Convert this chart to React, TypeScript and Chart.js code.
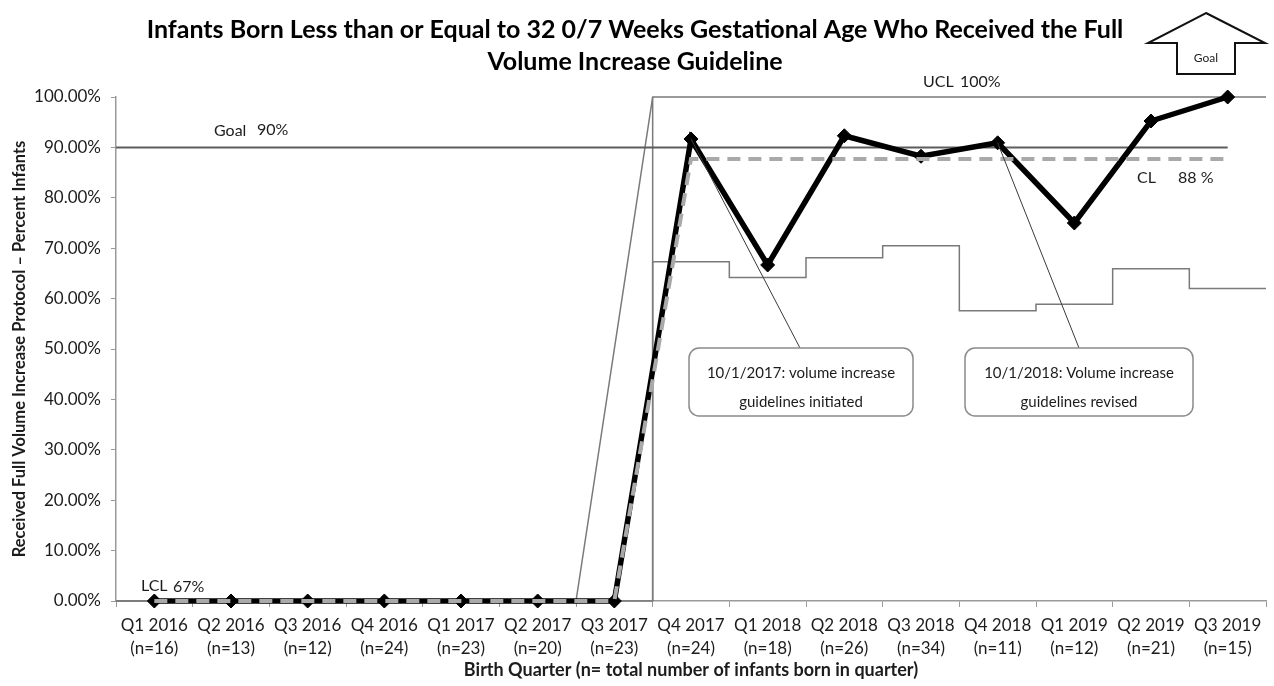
import React, { useEffect, useRef } from 'react';
import { Chart, registerables } from 'chart.js';

Chart.register(...registerables);

// ---------- data ----------
const quarters = [
  'Q1 2016', 'Q2 2016', 'Q3 2016', 'Q4 2016',
  'Q1 2017', 'Q2 2017', 'Q3 2017', 'Q4 2017',
  'Q1 2018', 'Q2 2018', 'Q3 2018', 'Q4 2018',
  'Q1 2019', 'Q2 2019', 'Q3 2019',
];
const infantCounts = [16, 13, 12, 24, 23, 20, 23, 24, 18, 26, 34, 11, 12, 21, 15];
const percentReceived = [0, 0, 0, 0, 0, 0, 0, 91.67, 66.67, 92.31, 88.24, 90.91, 75.0, 95.24, 100];
const centerLine = [0, 0, 0, 0, 0, 0, 0, 87.7, 87.7, 87.7, 87.7, 87.7, 87.7, 87.7, 87.7];
const upperLimit = [0, 0, 0, 0, 0, 0, 0, 100, 100, 100, 100, 100, 100, 100, 100];
const lowerLimit = [0, 0, 0, 0, 0, 0, 0, 67.3, 64.2, 68.1, 70.5, 57.6, 58.9, 65.9, 62.0];
const goalValue = 90;
const phaseStartIndex = 7; // Q4 2017
const yTickValues = [0, 10, 20, 30, 40, 50, 60, 70, 80, 90, 100];

const titleLines = [
  'Infants Born Less than or Equal to 32 0/7 Weeks Gestational Age Who Received the Full',
  'Volume Increase Guideline',
];
const xAxisTitle = 'Birth Quarter (n= total number of infants born in quarter)';
const yAxisTitle = 'Received Full Volume Increase Protocol \u2013 Percent Infants';

const callouts = [
  { index: 7, lines: ['10/1/2017: volume increase', 'guidelines initiated'], left: 689, right: 913, anchorX: 800 },
  { index: 11, lines: ['10/1/2018: Volume increase', 'guidelines revised'], left: 965, right: 1193, anchorX: 1079 },
];

const FONT = 'Lato';
const TEXT = '#1c1c1c';

const annotationPlugin = {
  id: 'spcAnnotations',
  afterDraw(chart: any) {
    const ctx = chart.ctx as CanvasRenderingContext2D;
    const xs = chart.scales.x;
    const ys = chart.scales.y;
    ctx.save();

    // line labels
    ctx.fillStyle = TEXT;
    ctx.textBaseline = 'middle';
    ctx.textAlign = 'left';
    ctx.font = `16px ${FONT}`;
    const labels: [string, number, number][] = [
      ['Goal', 214, 131], ['90%', 257, 130],
      ['UCL', 923, 82], ['100%', 960, 82],
      ['CL', 1137, 178], ['88 %', 1178, 178],
      ['LCL', 141, 586], ['67%', 173, 587],
    ];
    for (const [t, x, y] of labels) ctx.fillText(t, x, y);

    // callouts
    const boxTop = 348;
    const boxBottom = 416;
    for (const c of callouts) {
      const px = xs.getPixelForValue(c.index);
      const py = ys.getPixelForValue(percentReceived[c.index]);
      ctx.strokeStyle = '#3a3a3a';
      ctx.lineWidth = 1;
      ctx.beginPath();
      ctx.moveTo(px, py);
      ctx.lineTo(c.anchorX, boxTop);
      ctx.stroke();

      ctx.beginPath();
      (ctx as any).roundRect(c.left, boxTop, c.right - c.left, boxBottom - boxTop, 10);
      ctx.fillStyle = '#ffffff';
      ctx.fill();
      ctx.strokeStyle = '#8a8a8a';
      ctx.lineWidth = 1.5;
      ctx.stroke();

      ctx.fillStyle = TEXT;
      ctx.font = `15px ${FONT}`;
      ctx.textAlign = 'center';
      const cx = (c.left + c.right) / 2;
      ctx.fillText(c.lines[0], cx, 373);
      ctx.fillText(c.lines[1], cx, 402);
    }

    // goal arrow
    ctx.beginPath();
    ctx.moveTo(1206, 13);
    ctx.lineTo(1265, 43);
    ctx.lineTo(1235, 43);
    ctx.lineTo(1235, 74);
    ctx.lineTo(1177, 74);
    ctx.lineTo(1177, 43);
    ctx.lineTo(1148, 43);
    ctx.closePath();
    ctx.fillStyle = '#ffffff';
    ctx.fill();
    ctx.strokeStyle = '#111111';
    ctx.lineWidth = 2;
    ctx.stroke();
    ctx.fillStyle = TEXT;
    ctx.font = `12px ${FONT}`;
    ctx.textAlign = 'center';
    ctx.fillText('Goal', 1206, 58);

    ctx.restore();
  },
};

export default function App() {
  const canvasRef = useRef<HTMLCanvasElement | null>(null);

  useEffect(() => {
    if (!canvasRef.current) return;
    const n = quarters.length;
    const centerPts = (arr: number[]) => arr.map((v, i) => ({ x: i, y: v }));
    const edgePts = (arr: number[]) => [
      ...arr.map((v, i) => ({ x: i - 0.5, y: v })),
      { x: n - 0.5, y: arr[n - 1] },
    ];

    const chart = new Chart(canvasRef.current, {
      type: 'line',
      data: {
        datasets: [
          {
            label: 'CL',
            data: centerPts(centerLine),
            borderColor: '#a9a9a9',
            borderWidth: 4,
            borderDash: [13, 8],
            pointRadius: 0,
            clip: false as any,
          },
          {
            label: 'Percent received',
            data: centerPts(percentReceived),
            borderColor: '#000000',
            borderWidth: 5.5,
            pointStyle: 'rectRot',
            pointRadius: 7,
            pointBackgroundColor: '#000000',
            pointBorderColor: '#000000',
            pointBorderWidth: 1,
            clip: false as any,
          },
          {
            label: 'Goal',
            data: [{ x: -0.5, y: goalValue }, { x: n - 1, y: goalValue }],
            borderColor: '#5c5c5c',
            borderWidth: 2,
            pointRadius: 0,
            clip: false as any,
          },
          {
            label: 'UCL',
            data: edgePts(upperLimit),
            borderColor: '#7a7a7a',
            borderWidth: 1.5,
            pointRadius: 0,
            clip: false as any,
          },
          {
            label: 'LCL',
            data: edgePts(lowerLimit),
            borderColor: '#7a7a7a',
            borderWidth: 1.5,
            pointRadius: 0,
            stepped: 'before',
            clip: false as any,
          },
          {
            label: 'Phase change',
            data: [{ x: phaseStartIndex - 0.5, y: 0 }, { x: phaseStartIndex - 0.5, y: 100 }],
            borderColor: '#7a7a7a',
            borderWidth: 1.5,
            pointRadius: 0,
            clip: false as any,
          },
        ],
      },
      options: {
        animation: false,
        responsive: false,
        devicePixelRatio: 1,
        parsing: true,
        layout: { padding: { top: 0, left: 0, right: 4, bottom: 0 } },
        plugins: {
          legend: { display: false },
          tooltip: { enabled: false },
          title: {
            display: true,
            text: titleLines,
            color: '#000000',
            font: { family: FONT, size: 25, weight: 'bold', lineHeight: 32 / 25 },
            padding: { top: 14, bottom: 19 },
          },
        },
        scales: {
          x: {
            type: 'linear',
            min: -0.5,
            max: n - 0.5,
            afterFit: (s: any) => { s.height = 85; },
            afterBuildTicks: (s: any) => { s.ticks = quarters.map((_, i) => ({ value: i })); },
            ticks: {
              autoSkip: false,
              maxRotation: 0,
              minRotation: 0,
              padding: 7,
              color: TEXT,
              font: { family: FONT, size: 17, lineHeight: 23 / 17 },
              callback: (_v: any, i: number) => [quarters[i], `(n=${infantCounts[i]})`],
            },
            grid: { offset: true, drawOnChartArea: false, tickLength: 6, color: '#9a9a9a', lineWidth: 1 },
            border: { color: '#9a9a9a', width: 1.5 },
            title: {
              display: true,
              text: xAxisTitle,
              color: TEXT,
              font: { family: FONT, size: 18, weight: 'bold' },
              padding: { top: 0, bottom: 5 },
            },
          },
          y: {
            min: 0,
            max: 100,
            afterFit: (s: any) => { s.width = 116; },
            afterBuildTicks: (s: any) => { s.ticks = yTickValues.map((v) => ({ value: v })); },
            ticks: {
              padding: 10,
              color: TEXT,
              font: { family: FONT, size: 17 },
              callback: (v: any) => `${Number(v).toFixed(2)}%`,
            },
            grid: { drawOnChartArea: false, tickLength: 5, color: '#9a9a9a', lineWidth: 1 },
            border: { color: '#9a9a9a', width: 1.5 },
            title: {
              display: true,
              text: yAxisTitle,
              color: TEXT,
              font: { family: FONT, size: 16.5, weight: 'bold' },
              padding: { top: 10, bottom: 0 },
            },
          },
        },
      },
      plugins: [annotationPlugin],
    } as any);

    return () => chart.destroy();
  }, []);

  return (
    <div style={{ position: 'fixed', left: 0, top: 0, width: 1274, height: 686, background: '#ffffff' }}>
      <canvas ref={canvasRef} width={1274} height={686} style={{ display: 'block', width: 1274, height: 686 }} />
    </div>
  );
}
